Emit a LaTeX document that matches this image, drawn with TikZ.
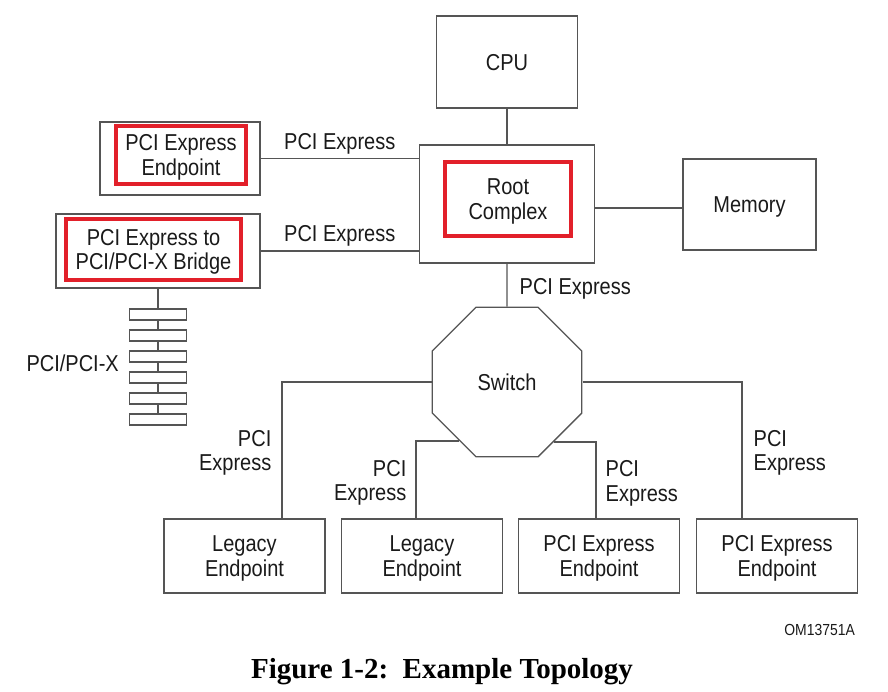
\documentclass[tikz,border=0pt]{standalone}
\usepackage{fontspec}
\setmainfont{Liberation Sans}[FakeStretch=0.87]
\newfontfamily\capfont{Liberation Serif}
\usetikzlibrary{positioning,shapes.geometric,calc}
\definecolor{linegray}{HTML}{555555}
\definecolor{pcired}{HTML}{E2202A}
\definecolor{txt}{HTML}{1A1A1A}

\begin{document}
\begin{tikzpicture}[x=1pt,y=-1pt,
   every node/.style={font=\fontsize{23}{24.5}\selectfont,text=txt},
   box/.style={draw=linegray,line width=1.3pt,inner sep=0pt,align=center,text depth=-3pt},
   redbox/.style={draw=pcired,line width=4pt,inner sep=0pt,align=center,text depth=-3pt},
   lbl/.style={inner sep=0pt,align=center},
   link/.style={draw=linegray,line width=1.3pt},
   slot/.style={draw=linegray,line width=1.3pt,fill=white,minimum width=57pt,minimum height=11pt,inner sep=0pt}]

\useasboundingbox[fill=white] (0,0) rectangle (888,691);

\node[box,minimum width=141pt,minimum height=92pt] (cpu) at (507,62) {CPU};
\node[box,minimum width=175pt,minimum height=118pt] (rc) at (507,204) {};
\node[redbox,minimum width=126pt,minimum height=74pt] (rcin) at (508,199) {Root\\Complex};
\node[box,minimum width=133pt,minimum height=91pt] (mem) at (749.5,204.5) {Memory};
\node[box,minimum width=160pt,minimum height=73pt] (ep) at (180,158.5) {};
\node[redbox,minimum width=130pt,minimum height=58pt] (epin) at (181,155) {PCI Express\\Endpoint};
\node[box,minimum width=204pt,minimum height=74pt] (br) at (158,251) {};
\node[redbox,minimum width=175pt,minimum height=61pt] (brin) at (153.5,249.5) {PCI Express to\\PCI/PCI-X Bridge};

\node[box,regular polygon,regular polygon sides=8,minimum size=162pt] (sw) at (507,382) {Switch};

\foreach \x/\nm/\txt in {244.5/leg1/Legacy, 422/leg2/Legacy, 599/pcie1/PCI Express, 777/pcie2/PCI Express}
  \node[box,minimum width=161pt,minimum height=74pt] (\nm) at (\x,556) {\txt\\Endpoint};

\foreach \i in {1,...,6}
  \node[slot] (slot\i) at (158,293.5+21*\i) {};
\draw[link] (br.south) -- (slot1.north);
\foreach \i [count=\j from 2] in {1,...,5}
  \draw[link] (slot\i.south) -- (slot\j.north);
\node[lbl,anchor=east] (buslbl) at (119,363) {PCI/PCI-X};

\draw[link] (cpu.south) -- (rc.north);
\draw[link] ([yshift=-3.5pt]mem.west) -- ([yshift=-3.5pt]mem.west -| rc.east);
\draw[link] (ep.east) -- node[lbl,above=4pt] {PCI Express} (ep.east -| rc.west);
\draw[link] (br.east) -- node[lbl,above=4pt] {PCI Express} (br.east -| rc.west);
\draw[link] (rc.south) -- node[lbl,pos=0.59,right=12pt] {PCI Express} (sw.north);

\draw[link] (sw.west) -| node[lbl,pos=0.76,left=10pt,align=right] {PCI\\Express} ([xshift=37.5pt]leg1.north);
\draw[link] (sw.east) -| node[lbl,pos=0.76,right=11pt,align=left] {PCI\\Express} ([xshift=-35pt]pcie2.north);
\draw[link] ([xshift=-6pt]leg2.north) |- node[lbl,pos=0.23,left=9pt,align=right] {PCI\\Express} (sw.231.5);
\draw[link] ([xshift=-3pt]pcie1.north) |- node[lbl,pos=0.23,right=9pt,align=left] {PCI\\Express} (sw.308.5);

\node[lbl,anchor=east,font=\fontsize{16}{18}\selectfont] (omid) at (855,630) {OM13751A};
\node[lbl,font=\capfont\bfseries\fontsize{29}{32}\selectfont,text=black] (cap) at (442,672) {Figure 1-2:\ \ Example Topology};

\end{tikzpicture}
\end{document}
